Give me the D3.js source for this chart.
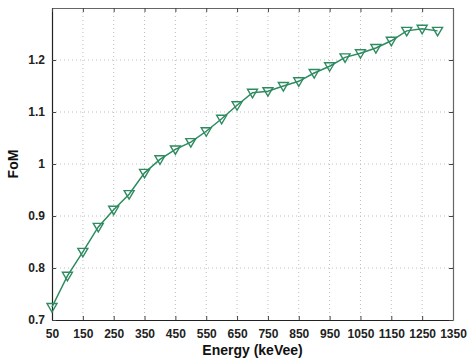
<!DOCTYPE html>
<html>
<head>
<meta charset="utf-8">
<script src="https://cdn.jsdelivr.net/npm/d3@7"></script>
<style>
  body { margin: 0; background: #fff; }
  .tick text { font-family: "Liberation Sans", Arial, sans-serif; font-weight: bold; font-size: 12px; fill: #222; }
  .label { font-family: "Liberation Sans", Arial, sans-serif; font-weight: bold; font-size: 14px; fill: #111; }
</style>
</head>
<body>
<script>
// Data
var energy = [50, 100, 150, 200, 250, 300, 350, 400, 450, 500, 550, 600, 650,
              700, 750, 800, 850, 900, 950, 1000, 1050, 1100, 1150, 1200, 1250, 1300];
var fom = [0.725, 0.785, 0.831, 0.879, 0.912, 0.942, 0.983, 1.009, 1.028, 1.042, 1.063, 1.087, 1.113,
           1.137, 1.140, 1.150, 1.159, 1.175, 1.188, 1.205, 1.213, 1.223, 1.237, 1.256, 1.260, 1.256];
var xTicks = [50, 150, 250, 350, 450, 550, 650, 750, 850, 950, 1050, 1150, 1250, 1350];
var yTicks = [0.7, 0.8, 0.9, 1, 1.1, 1.2];

//Define Margin
var margin = {left: 52, right: 17, top: 8, bottom: 38},
    width = 470 - margin.left - margin.right,
    height = 358 - margin.top - margin.bottom;

var svg = d3.select("body")
    .append("svg")
    .attr("width", 470)
    .attr("height", 358)
    .append("g")
    .attr("transform", "translate(" + margin.left + "," + margin.top + ")");

//Define Scales
var xScale = d3.scaleLinear().domain([50, 1350]).range([0, width]);
var yScale = d3.scaleLinear().domain([0.7, 1.3]).range([height, 0]);

// dotted grid
svg.selectAll(".vgrid")
    .data(xTicks.slice(1, -1))
    .enter().append("line")
    .attr("x1", function(d) { return xScale(d); })
    .attr("x2", function(d) { return xScale(d); })
    .attr("y1", 0).attr("y2", height)
    .attr("stroke", "#bdbdbd")
    .attr("stroke-dasharray", "1,3");

svg.selectAll(".hgrid")
    .data(yTicks.slice(1))
    .enter().append("line")
    .attr("y1", function(d) { return yScale(d); })
    .attr("y2", function(d) { return yScale(d); })
    .attr("x1", 0).attr("x2", width)
    .attr("stroke", "#bdbdbd")
    .attr("stroke-dasharray", "1,3");

// axes, ticks pointing inward like matlab
var xAxis = d3.axisBottom(xScale).tickValues(xTicks).tickSizeInner(-4).tickSizeOuter(0).tickPadding(9).tickFormat(d3.format("d"));
var yAxis = d3.axisLeft(yScale).tickValues(yTicks).tickSizeInner(-4).tickSizeOuter(0).tickPadding(7).tickFormat(function(d) { return d3.format("")(d); });
var xTop = d3.axisTop(xScale).tickValues(xTicks).tickSizeInner(-4).tickSizeOuter(0).tickFormat("");
var yRight = d3.axisRight(yScale).tickValues(yTicks).tickSizeInner(-4).tickSizeOuter(0).tickFormat("");

svg.append("g").attr("class", "x axis").attr("transform", "translate(0," + height + ")").call(xAxis);
svg.append("g").attr("class", "y axis").call(yAxis);
svg.append("g").attr("class", "x axis top").call(xTop);
svg.append("g").attr("class", "y axis right").attr("transform", "translate(" + width + ",0)").call(yRight);

svg.selectAll(".axis path").attr("stroke", "#222").attr("stroke-width", 1.2);
svg.selectAll(".top path, .right path").attr("stroke", "#666");
svg.selectAll(".axis line").attr("stroke", "#444");

// curve
var pts = energy.map(function(e, i) { return [e, fom[i]]; });
var line = d3.line()
    .x(function(d) { return xScale(d[0]); })
    .y(function(d) { return yScale(d[1]); });

svg.append("path")
    .datum(pts)
    .attr("d", line)
    .attr("fill", "none")
    .attr("stroke", "#2e8b60")
    .attr("stroke-width", 1.5);

// down triangles
svg.selectAll(".marker")
    .data(pts)
    .enter().append("path")
    .attr("class", "marker")
    .attr("transform", function(d) { return "translate(" + xScale(d[0]) + "," + yScale(d[1]) + ")"; })
    .attr("d", "M-5,-3.5L5,-3.5L0,5Z")
    .attr("fill", "none")
    .attr("stroke", "#2e8b60")
    .attr("stroke-width", 1.4);

// labels
svg.append("text")
    .attr("class", "label")
    .attr("x", width / 2)
    .attr("y", height + 35)
    .style("text-anchor", "middle")
    .text("Energy (keVee)");

svg.append("text")
    .attr("class", "label")
    .attr("transform", "rotate(-90)")
    .attr("x", -yScale(1))
    .attr("y", -34)
    .style("text-anchor", "middle")
    .text("FoM");
</script>
</body>
</html>
